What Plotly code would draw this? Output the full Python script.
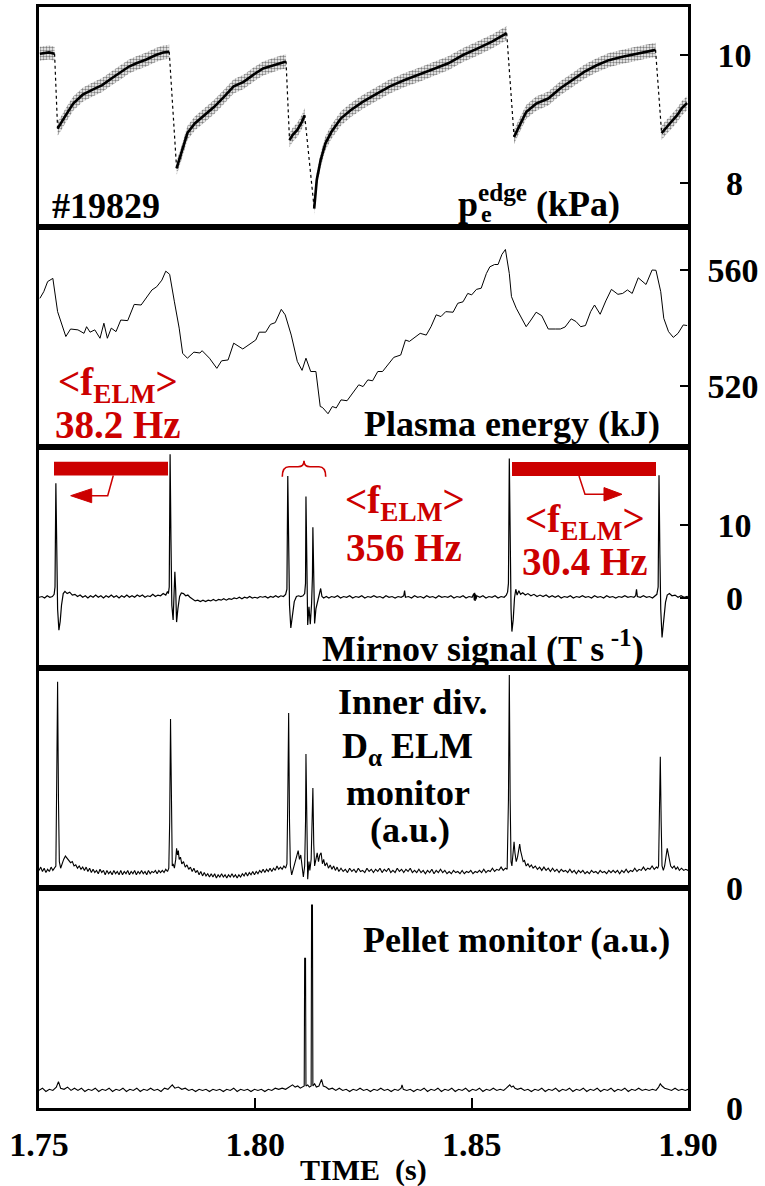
import plotly.graph_objects as go

# ---------------- data ----------------
x_ticks = [1.75, 1.80, 1.85, 1.90]
x_ticktext = ["1.75", "1.80", "1.85", "1.90"]

# edge electron pressure (kPa): segments between ELM crashes separated by None
pe_t = [1.7502, 1.7523, 1.7536, None,
        1.7543, 1.7551, 1.7562, 1.7579, 1.7601, 1.7624, 1.7646, 1.7669, 1.7691, 1.7708, 1.7725, 1.7748, 1.7770, 1.7787, 1.7801, None,
        1.7818, 1.7829, 1.7843, 1.7860, 1.7883, 1.7905, 1.7928, 1.7950, 1.7973, 1.7995, 1.8018, 1.8040, 1.8057, 1.8071, None,
        1.8079, 1.8086, 1.8097, 1.8108, 1.8114, None,
        1.8136, 1.8142, 1.8151, 1.8162, 1.8176, 1.8198, 1.8221, 1.8249, 1.8277, 1.8311, 1.8345, 1.8378, 1.8412, 1.8446, 1.8480, 1.8513, 1.8547, 1.8570, 1.8581, None,
        1.8598, 1.8609, 1.8626, 1.8649, 1.8677, 1.8705, 1.8733, 1.8761, 1.8789, 1.8817, 1.8846, 1.8874, 1.8902, 1.8925, None,
        1.8939, 1.8947, 1.8958, 1.8975, 1.8986, 1.8998]
pe_v = [10.02, 10.04, 10.02, None,
        8.85, 8.93, 9.06, 9.24, 9.38, 9.46, 9.53, 9.64, 9.74, 9.82, 9.87, 9.93, 10.00, 10.04, 10.05, None,
        8.23, 8.46, 8.78, 8.93, 9.06, 9.19, 9.35, 9.51, 9.58, 9.69, 9.79, 9.84, 9.88, 9.90, None,
        8.67, 8.75, 8.83, 8.96, 9.06, None,
        7.60, 8.05, 8.36, 8.62, 8.80, 9.01, 9.14, 9.27, 9.38, 9.51, 9.61, 9.69, 9.78, 9.87, 10.00, 10.10, 10.21, 10.30, 10.34, None,
        8.72, 8.88, 9.11, 9.24, 9.32, 9.48, 9.61, 9.74, 9.84, 9.92, 9.97, 10.01, 10.05, 10.08, None,
        8.78, 8.85, 8.93, 9.06, 9.17, 9.25]
pe_spread = 0.11          # half width of the scatter band (kPa)
pe_ticks = [8, 10]

# plasma energy (kJ)
w_t = [1.7502, 1.7511, 1.7520, 1.7532, 1.7543, 1.7554, 1.7562, 1.7573, 1.7590, 1.7604, 1.7610, 1.7618, 1.7629, 1.7641,
       1.7650, 1.7658, 1.7667, 1.7678, 1.7689, 1.7705, 1.7720, 1.7736, 1.7748, 1.7761, 1.7772, 1.7784, 1.7793, 1.7802,
       1.7813, 1.7824, 1.7832, 1.7843, 1.7858, 1.7872, 1.7877, 1.7894, 1.7911, 1.7922, 1.7937, 1.7950, 1.7971, 1.7984,
       1.8001, 1.8009, 1.8024, 1.8035, 1.8046, 1.8060, 1.8069, 1.8083, 1.8097, 1.8108, 1.8117, 1.8128, 1.8140, 1.8150,
       1.8155, 1.8168, 1.8178, 1.8187, 1.8198, 1.8212, 1.8223, 1.8239, 1.8249, 1.8260, 1.8271, 1.8283, 1.8294, 1.8306,
       1.8320, 1.8336, 1.8347, 1.8356, 1.8369, 1.8381, 1.8395, 1.8406, 1.8418, 1.8429, 1.8440, 1.8457, 1.8468, 1.8480,
       1.8491, 1.8500, 1.8511, 1.8522, 1.8534, 1.8542, 1.8553, 1.8561, 1.8570, 1.8578, 1.8587, 1.8592, 1.8603, 1.8615,
       1.8626, 1.8637, 1.8649, 1.8662, 1.8677, 1.8694, 1.8705, 1.8716, 1.8730, 1.8741, 1.8752, 1.8763, 1.8775, 1.8784,
       1.8797, 1.8810, 1.8823, 1.8838, 1.8849, 1.8860, 1.8871, 1.8885, 1.8894, 1.8903, 1.8917, 1.8926, 1.8937, 1.8944,
       1.8955, 1.8966, 1.8977, 1.8989, 1.8998]
w_v = [550.2, 552.5, 556.0, 557.1, 545.6, 541.0, 537.0, 539.6, 539.3, 538.1, 540.4, 538.5, 539.3, 536.4,
       541.6, 536.4, 539.9, 538.7, 542.7, 542.5, 548.1, 547.9, 550.2, 553.1, 554.2, 556.5, 559.6, 558.5,
       549.0, 539.9, 531.2, 529.5, 531.6, 531.3, 532.1, 529.5, 526.0, 528.6, 528.9, 534.7, 532.7, 534.1,
       535.8, 538.5, 538.5, 541.2, 541.8, 546.4, 544.5, 537.5, 528.4, 525.3, 529.5, 524.9, 524.9, 512.8,
       512.5, 510.3, 512.8, 512.3, 515.1, 514.8, 516.9, 520.3, 519.7, 522.0, 521.7, 524.9, 524.9, 527.0,
       529.8, 530.6, 535.8, 535.3, 536.6, 538.1, 537.5, 540.4, 544.5, 543.9, 545.6, 545.4, 548.5, 549.0,
       551.9, 551.4, 553.3, 553.7, 558.8, 561.1, 561.9, 561.9, 565.4, 567.1, 558.8, 550.8, 546.8, 543.3,
       540.4, 542.7, 545.4, 544.2, 539.6, 539.6, 539.6, 540.3, 543.1, 542.2, 540.4, 540.8, 545.6, 547.9,
       544.7, 549.3, 553.3, 551.6, 551.9, 553.1, 551.9, 557.3, 556.2, 555.0, 560.0, 559.9, 552.5, 543.3,
       538.7, 536.7, 538.1, 541.0, 540.8]
w_ticks = [520, 560]

# Mirnov signal (T/s)
mir_t = [1.7500, 1.7507, 1.7513, 1.7519, 1.7525, 1.7531, 1.7535, 1.7537, 1.7539, 1.7541, 1.7543, 1.7546, 1.7549, 1.7552,
         1.7556, 1.7560, 1.7565, 1.7571, 1.7577, 1.7583, 1.7589, 1.7595, 1.7601, 1.7607, 1.7613, 1.7619, 1.7625, 1.7631,
         1.7637, 1.7643, 1.7649, 1.7655, 1.7661, 1.7667, 1.7673, 1.7679, 1.7685, 1.7691, 1.7697, 1.7703, 1.7709, 1.7715,
         1.7721, 1.7727, 1.7733, 1.7739, 1.7745, 1.7751, 1.7757, 1.7763, 1.7769, 1.7775, 1.7781, 1.7787, 1.7793, 1.7797,
         1.7799, 1.7801, 1.7803, 1.7805, 1.7807, 1.7810, 1.7812, 1.7814, 1.7816, 1.7818, 1.7821, 1.7825, 1.7829, 1.7834,
         1.7839, 1.7844, 1.7849, 1.7855, 1.7861, 1.7867, 1.7873, 1.7879, 1.7885, 1.7891, 1.7897, 1.7903, 1.7909, 1.7915,
         1.7921, 1.7927, 1.7933, 1.7939, 1.7945, 1.7951, 1.7957, 1.7963, 1.7969, 1.7975, 1.7981, 1.7987, 1.7993, 1.7999,
         1.8005, 1.8011, 1.8017, 1.8023, 1.8029, 1.8035, 1.8041, 1.8047, 1.8053, 1.8059, 1.8065, 1.8070, 1.8073, 1.8075,
         1.8077, 1.8079, 1.8082, 1.8086, 1.8090, 1.8095, 1.8100, 1.8105, 1.8110, 1.8114, 1.8116, 1.8117, 1.8119, 1.8121,
         1.8124, 1.8127, 1.8130, 1.8132, 1.8133, 1.8135, 1.8137, 1.8140, 1.8144, 1.8148, 1.8151, 1.8154, 1.8158, 1.8164,
         1.8170, 1.8176, 1.8183, 1.8190, 1.8197, 1.8204, 1.8211, 1.8218, 1.8225, 1.8232, 1.8239, 1.8246, 1.8253, 1.8260,
         1.8267, 1.8274, 1.8281, 1.8288, 1.8295, 1.8302, 1.8309, 1.8316, 1.8323, 1.8330, 1.8337, 1.8343, 1.8345, 1.8347,
         1.8354, 1.8361, 1.8368, 1.8375, 1.8382, 1.8389, 1.8396, 1.8403, 1.8410, 1.8417, 1.8424, 1.8431, 1.8438, 1.8445,
         1.8452, 1.8459, 1.8466, 1.8473, 1.8480, 1.8487, 1.8494, 1.8501, 1.8505, 1.8506, 1.8507, 1.8508, 1.8509, 1.8510,
         1.8512, 1.8519, 1.8526, 1.8533, 1.8540, 1.8547, 1.8554, 1.8561, 1.8568, 1.8575, 1.8580, 1.8583, 1.8585, 1.8587,
         1.8589, 1.8591, 1.8593, 1.8596, 1.8599, 1.8602, 1.8605, 1.8609, 1.8613, 1.8618, 1.8624, 1.8630, 1.8637, 1.8644,
         1.8651, 1.8658, 1.8665, 1.8672, 1.8679, 1.8686, 1.8693, 1.8700, 1.8707, 1.8714, 1.8721, 1.8728, 1.8735, 1.8742,
         1.8749, 1.8756, 1.8763, 1.8770, 1.8777, 1.8784, 1.8791, 1.8798, 1.8805, 1.8812, 1.8819, 1.8826, 1.8833, 1.8840,
         1.8847, 1.8854, 1.8861, 1.8868, 1.8875, 1.8879, 1.8881, 1.8883, 1.8890, 1.8897, 1.8904, 1.8911, 1.8918, 1.8924,
         1.8928, 1.8931, 1.8933, 1.8935, 1.8937, 1.8940, 1.8944, 1.8948, 1.8952, 1.8957, 1.8963, 1.8970, 1.8977, 1.8984,
         1.8991, 1.8998, 1.9000]
mir_v = [0.1, 0.2, 0.0, 0.3, 0.1, 0.2, 0.5, 1.5, 15.7, 6.0, -1.5, -4.4, -3.2, -1.0,
         0.6, 0.9, 0.6, 0.8, 0.4, 0.5, 0.2, 0.4, 0.1, 0.3, 0.0, 0.3, 0.1, 0.4,
         0.1, 0.3, 0.0, 0.3, 0.1, 0.4, 0.1, 0.3, 0.0, 0.3, 0.1, 0.4, 0.1, 0.3,
         0.1, 0.4, 0.2, 0.4, 0.1, 0.3, 0.2, 0.5, 0.2, 0.4, 0.3, 0.6, 0.4, 0.9,
         0.6, 1.5, 19.7, 8.0, -1.0, -3.0, 0.0, 3.6, 1.0, -3.3, -1.5, 0.2, 0.7, 0.6,
         0.3, 0.4, 0.1, -0.2, -0.4, -0.3, -0.5, -0.3, -0.5, -0.3, -0.4, -0.2, -0.4, -0.2,
         -0.3, -0.1, -0.3, -0.1, -0.2, 0.0, -0.1, 0.1, -0.1, 0.1, 0.0, 0.2, 0.0, 0.1,
         0.0, 0.2, 0.1, 0.2, 0.0, 0.2, 0.1, 0.3, 0.1, 0.3, 0.2, 0.5, 1.2, 16.7,
         6.0, -1.0, -4.1, -2.5, -0.5, 0.2, 0.3, 0.2, 0.3, 0.6, 2.0, 13.9, 3.0, -3.7,
         -1.2, -3.6, -0.8, 3.0, 9.7, 2.0, -3.5, -1.5, -0.3, 0.6, 1.3, 0.2, 0.0, 0.2,
         0.0, 0.2, 0.1, 0.3, 0.0, 0.2, 0.1, 0.3, 0.0, 0.2, 0.1, 0.3, 0.0, 0.2,
         0.1, 0.3, 0.1, 0.2, 0.0, 0.3, 0.1, 0.2, 0.0, 0.2, 0.1, 0.3, 1.0, 0.1,
         0.2, 0.0, 0.3, 0.1, 0.2, 0.0, 0.3, 0.1, 0.2, 0.0, 0.3, 0.1, 0.2, 0.1,
         0.3, 0.0, 0.2, 0.1, 0.3, 0.0, 0.2, 0.1, 0.6, -0.3, 0.7, -0.4, 0.5, -0.2,
         0.3, 0.1, 0.3, 0.0, 0.2, 0.1, 0.3, 0.0, 0.2, 0.1, 0.4, 0.8, 2.0, 19.1,
         6.0, -1.5, -4.6, -3.0, 0.0, 1.2, 0.4, 1.0, 0.5, 0.7, 0.4, 0.6, 0.3, 0.5,
         0.2, 0.4, 0.2, 0.4, 0.1, 0.3, 0.1, 0.3, 0.0, 0.2, 0.1, 0.3, 0.0, 0.2,
         0.1, 0.3, 0.1, 0.2, 0.0, 0.3, 0.1, 0.2, 0.0, 0.3, 0.1, 0.2, 0.0, 0.2,
         0.1, 0.3, 0.1, 0.2, 0.1, 0.3, 1.2, 0.2, 0.1, 0.3, 0.1, 0.2, 0.0, 0.3,
         0.5, 1.5, 16.8, 6.0, -1.5, -5.4, -3.0, -0.6, 0.4, 0.6, 0.3, 0.4, 0.1, 0.3,
         0.1, 0.2, 0.1]
mir_ticks = [0, 10]

# inner divertor D-alpha (a.u.)
da_t = [1.7500, 1.7504, 1.7508, 1.7512, 1.7516, 1.7520, 1.7524, 1.7528, 1.7532, 1.7536, 1.7539, 1.7541, 1.7543, 1.7545,
        1.7547, 1.7550, 1.7553, 1.7557, 1.7561, 1.7565, 1.7569, 1.7573, 1.7577, 1.7581, 1.7585, 1.7589, 1.7593, 1.7597,
        1.7601, 1.7605, 1.7609, 1.7613, 1.7617, 1.7621, 1.7625, 1.7629, 1.7633, 1.7637, 1.7641, 1.7645, 1.7649, 1.7653,
        1.7657, 1.7661, 1.7665, 1.7669, 1.7673, 1.7677, 1.7681, 1.7685, 1.7689, 1.7693, 1.7697, 1.7701, 1.7705, 1.7709,
        1.7713, 1.7717, 1.7721, 1.7725, 1.7729, 1.7733, 1.7737, 1.7741, 1.7745, 1.7749, 1.7753, 1.7757, 1.7761, 1.7765,
        1.7769, 1.7773, 1.7777, 1.7781, 1.7785, 1.7789, 1.7793, 1.7797, 1.7800, 1.7802, 1.7804, 1.7806, 1.7808, 1.7810,
        1.7813, 1.7816, 1.7818, 1.7820, 1.7822, 1.7824, 1.7827, 1.7830, 1.7834, 1.7838, 1.7842, 1.7846, 1.7850, 1.7854,
        1.7858, 1.7862, 1.7866, 1.7870, 1.7874, 1.7878, 1.7882, 1.7886, 1.7890, 1.7894, 1.7898, 1.7902, 1.7906, 1.7910,
        1.7914, 1.7918, 1.7922, 1.7926, 1.7930, 1.7934, 1.7938, 1.7942, 1.7946, 1.7950, 1.7954, 1.7958, 1.7962, 1.7966,
        1.7970, 1.7974, 1.7978, 1.7982, 1.7986, 1.7990, 1.7994, 1.7998, 1.8002, 1.8006, 1.8010, 1.8014, 1.8018, 1.8022,
        1.8026, 1.8030, 1.8034, 1.8038, 1.8042, 1.8046, 1.8050, 1.8054, 1.8058, 1.8062, 1.8066, 1.8070, 1.8073, 1.8075,
        1.8077, 1.8079, 1.8081, 1.8084, 1.8088, 1.8092, 1.8096, 1.8099, 1.8102, 1.8105, 1.8108, 1.8111, 1.8114, 1.8116,
        1.8117, 1.8119, 1.8121, 1.8124, 1.8126, 1.8129, 1.8131, 1.8133, 1.8135, 1.8137, 1.8140, 1.8143, 1.8146, 1.8149,
        1.8152, 1.8155, 1.8158, 1.8161, 1.8165, 1.8169, 1.8173, 1.8177, 1.8181, 1.8185, 1.8189, 1.8193, 1.8198, 1.8203,
        1.8208, 1.8213, 1.8218, 1.8223, 1.8228, 1.8233, 1.8238, 1.8243, 1.8248, 1.8253, 1.8258, 1.8263, 1.8268, 1.8273,
        1.8278, 1.8283, 1.8288, 1.8293, 1.8298, 1.8303, 1.8308, 1.8313, 1.8318, 1.8323, 1.8328, 1.8333, 1.8338, 1.8343,
        1.8348, 1.8353, 1.8358, 1.8363, 1.8368, 1.8373, 1.8378, 1.8383, 1.8388, 1.8393, 1.8398, 1.8403, 1.8408, 1.8413,
        1.8418, 1.8423, 1.8428, 1.8433, 1.8438, 1.8443, 1.8448, 1.8453, 1.8458, 1.8463, 1.8468, 1.8473, 1.8478, 1.8483,
        1.8488, 1.8493, 1.8498, 1.8503, 1.8508, 1.8513, 1.8518, 1.8523, 1.8528, 1.8533, 1.8538, 1.8543, 1.8548, 1.8553,
        1.8558, 1.8563, 1.8568, 1.8573, 1.8578, 1.8582, 1.8585, 1.8587, 1.8589, 1.8591, 1.8593, 1.8596, 1.8598, 1.8600,
        1.8603, 1.8606, 1.8609, 1.8611, 1.8613, 1.8616, 1.8619, 1.8622, 1.8626, 1.8630, 1.8634, 1.8638, 1.8642, 1.8647,
        1.8652, 1.8657, 1.8662, 1.8667, 1.8672, 1.8677, 1.8682, 1.8687, 1.8692, 1.8697, 1.8702, 1.8707, 1.8712, 1.8717,
        1.8722, 1.8727, 1.8732, 1.8737, 1.8742, 1.8747, 1.8752, 1.8757, 1.8762, 1.8767, 1.8772, 1.8777, 1.8782, 1.8787,
        1.8792, 1.8797, 1.8802, 1.8807, 1.8812, 1.8817, 1.8822, 1.8827, 1.8832, 1.8837, 1.8842, 1.8847, 1.8852, 1.8857,
        1.8862, 1.8867, 1.8872, 1.8877, 1.8882, 1.8887, 1.8892, 1.8897, 1.8902, 1.8907, 1.8912, 1.8917, 1.8922, 1.8927,
        1.8930, 1.8932, 1.8934, 1.8936, 1.8938, 1.8940, 1.8943, 1.8946, 1.8949, 1.8952, 1.8954, 1.8957, 1.8960, 1.8964,
        1.8968, 1.8972, 1.8976, 1.8980, 1.8985, 1.8990, 1.8995, 1.9000]
da_v = [0.8, 0.95, 0.75, 0.9, 0.7, 0.85, 0.75, 0.95, 0.8, 0.9, 1.0, 5.0, 9.38, 4.0,
        1.2, 0.9, 1.1, 1.3, 1.45, 1.35, 1.3, 1.15, 1.2, 1.0, 1.05, 0.9, 1.0, 0.85,
        0.95, 0.8, 0.95, 0.75, 0.9, 0.7, 0.85, 0.7, 0.8, 0.65, 0.85, 0.7, 0.8, 0.6,
        0.8, 0.65, 0.75, 0.6, 0.8, 0.65, 0.75, 0.6, 0.8, 0.6, 0.75, 0.65, 0.8, 0.6,
        0.75, 0.65, 0.8, 0.6, 0.75, 0.65, 0.8, 0.65, 0.75, 0.6, 0.8, 0.65, 0.75, 0.7,
        0.8, 0.65, 0.8, 0.7, 0.8, 0.7, 0.85, 0.75, 0.9, 3.0, 7.68, 3.0, 1.0, 1.1,
        0.9, 1.3, 1.8, 1.5, 1.7, 1.3, 1.4, 1.1, 1.2, 0.95, 1.05, 0.85, 0.95, 0.75,
        0.9, 0.7, 0.8, 0.6, 0.75, 0.55, 0.7, 0.55, 0.65, 0.5, 0.65, 0.5, 0.65, 0.45,
        0.6, 0.5, 0.65, 0.5, 0.6, 0.45, 0.6, 0.5, 0.65, 0.5, 0.6, 0.45, 0.6, 0.5,
        0.65, 0.55, 0.7, 0.55, 0.7, 0.6, 0.75, 0.6, 0.75, 0.65, 0.8, 0.7, 0.85, 0.7,
        0.85, 0.75, 0.9, 0.75, 0.9, 0.8, 1.0, 0.85, 0.95, 0.85, 1.0, 0.9, 1.1, 4.0,
        7.95, 3.0, 1.0, 0.6, 0.9, 1.2, 1.5, 1.7, 1.3, 1.5, 1.0, 0.5, 1.0, 3.0,
        6.09, 2.0, 0.4, 1.2, 0.8, 1.3, 2.5, 4.55, 2.0, 1.0, 1.3, 1.6, 1.2, 1.5,
        1.6, 1.1, 1.3, 1.0, 1.15, 0.9, 1.05, 0.85, 1.0, 0.8, 0.95, 0.75, 0.9, 0.75,
        0.85, 0.7, 0.9, 0.75, 0.85, 0.7, 0.9, 0.75, 0.8, 0.7, 0.9, 0.75, 0.85, 0.7,
        0.85, 0.75, 0.9, 0.7, 0.85, 0.75, 0.9, 0.7, 0.8, 0.7, 0.9, 0.75, 0.85, 0.7,
        0.85, 0.75, 0.9, 0.7, 0.8, 0.7, 0.85, 0.7, 0.8, 0.65, 0.8, 0.7, 0.85, 0.65,
        0.8, 0.7, 0.85, 0.7, 0.8, 0.65, 0.75, 0.65, 0.8, 0.7, 0.75, 0.65, 0.8, 0.65,
        0.75, 0.7, 0.8, 0.65, 0.75, 0.7, 0.8, 0.7, 0.85, 0.7, 0.8, 0.75, 0.9, 0.75,
        0.85, 0.8, 0.95, 0.8, 0.9, 0.85, 4.0, 9.68, 4.0, 1.2, 1.0, 1.6, 2.1, 1.6,
        1.2, 1.4, 1.8, 2.0, 1.7, 1.4, 1.2, 1.25, 1.0, 1.1, 0.95, 1.05, 0.9, 1.0,
        0.85, 0.95, 0.8, 0.95, 0.8, 0.9, 0.75, 0.9, 0.75, 0.85, 0.7, 0.85, 0.75, 0.8,
        0.7, 0.85, 0.7, 0.8, 0.65, 0.8, 0.7, 0.8, 0.65, 0.75, 0.65, 0.8, 0.7, 0.75,
        0.65, 0.8, 0.7, 0.75, 0.65, 0.8, 0.7, 0.8, 0.7, 0.8, 0.65, 0.8, 0.7, 0.85,
        0.7, 0.8, 0.75, 0.9, 0.75, 0.85, 0.8, 0.95, 0.8, 0.9, 0.85, 1.0, 0.85, 0.95,
        0.9, 1.0, 3.0, 5.97, 3.0, 1.0, 0.8, 1.0, 1.4, 1.8, 1.6, 1.3, 1.0, 0.9,
        1.0, 0.85, 0.95, 0.8, 0.9, 0.8, 0.85, 0.8]

# pellet monitor (a.u.)
pel_t = [1.7500, 1.7508, 1.7516, 1.7524, 1.7532, 1.7540, 1.7545, 1.7550, 1.7558, 1.7566, 1.7574, 1.7582, 1.7590, 1.7598,
         1.7606, 1.7614, 1.7622, 1.7630, 1.7638, 1.7646, 1.7654, 1.7662, 1.7670, 1.7678, 1.7686, 1.7694, 1.7702, 1.7710,
         1.7718, 1.7726, 1.7734, 1.7742, 1.7750, 1.7758, 1.7766, 1.7774, 1.7782, 1.7790, 1.7798, 1.7804, 1.7808, 1.7814,
         1.7822, 1.7830, 1.7838, 1.7846, 1.7854, 1.7862, 1.7870, 1.7878, 1.7886, 1.7894, 1.7902, 1.7910, 1.7918, 1.7926,
         1.7934, 1.7942, 1.7950, 1.7958, 1.7966, 1.7974, 1.7982, 1.7990, 1.7998, 1.8006, 1.8014, 1.8022, 1.8030, 1.8038,
         1.8046, 1.8054, 1.8062, 1.8070, 1.8078, 1.8086, 1.8092, 1.8098, 1.8104, 1.8110, 1.8113, 1.8114, 1.8116, 1.8117,
         1.8121, 1.8125, 1.8129, 1.8130, 1.8132, 1.8133, 1.8137, 1.8141, 1.8147, 1.8153, 1.8157, 1.8163, 1.8170, 1.8178,
         1.8186, 1.8194, 1.8202, 1.8210, 1.8218, 1.8226, 1.8234, 1.8242, 1.8250, 1.8258, 1.8266, 1.8274, 1.8282, 1.8290,
         1.8298, 1.8306, 1.8314, 1.8322, 1.8330, 1.8337, 1.8339, 1.8342, 1.8350, 1.8358, 1.8366, 1.8374, 1.8382, 1.8390,
         1.8398, 1.8406, 1.8414, 1.8422, 1.8430, 1.8438, 1.8446, 1.8454, 1.8462, 1.8470, 1.8478, 1.8486, 1.8494, 1.8502,
         1.8510, 1.8518, 1.8526, 1.8534, 1.8542, 1.8550, 1.8558, 1.8566, 1.8574, 1.8580, 1.8584, 1.8588, 1.8592, 1.8596,
         1.8600, 1.8606, 1.8614, 1.8622, 1.8630, 1.8638, 1.8646, 1.8654, 1.8662, 1.8670, 1.8678, 1.8686, 1.8694, 1.8702,
         1.8710, 1.8718, 1.8726, 1.8734, 1.8742, 1.8750, 1.8758, 1.8766, 1.8774, 1.8782, 1.8790, 1.8798, 1.8806, 1.8814,
         1.8822, 1.8830, 1.8838, 1.8846, 1.8854, 1.8862, 1.8870, 1.8878, 1.8886, 1.8894, 1.8902, 1.8910, 1.8918, 1.8926,
         1.8932, 1.8936, 1.8940, 1.8946, 1.8954, 1.8962, 1.8970, 1.8978, 1.8986, 1.8994, 1.9000]
pel_v = [0.8, 0.9, 0.75, 0.85, 0.8, 0.95, 1.2, 0.9, 0.85, 0.95, 0.8, 0.9, 0.8, 0.9,
         0.75, 0.85, 0.8, 0.9, 0.75, 0.85, 0.8, 0.9, 0.75, 0.85, 0.8, 0.9, 0.75, 0.85,
         0.8, 0.9, 0.75, 0.85, 0.8, 0.9, 0.8, 0.85, 0.75, 0.9, 0.85, 1.0, 1.05, 0.9,
         0.95, 0.85, 0.9, 0.8, 0.85, 0.75, 0.85, 0.8, 0.85, 0.75, 0.85, 0.8, 0.85, 0.75,
         0.85, 0.8, 0.9, 0.75, 0.85, 0.8, 0.85, 0.75, 0.85, 0.8, 0.85, 0.75, 0.85, 0.8,
         0.9, 0.85, 0.9, 0.85, 0.95, 1.05, 0.95, 1.0, 0.9, 0.95, 1.0, 6.8, 6.8, 1.0,
         1.05, 0.95, 1.0, 9.22, 9.22, 1.0, 1.1, 0.95, 1.0, 1.3, 1.0, 0.95, 0.85, 0.9,
         0.8, 0.9, 0.8, 0.85, 0.75, 0.85, 0.8, 0.9, 0.8, 0.85, 0.75, 0.85, 0.8, 0.9,
         0.8, 0.85, 0.75, 0.85, 0.8, 0.9, 1.05, 0.85, 0.8, 0.85, 0.75, 0.85, 0.8, 0.9,
         0.75, 0.85, 0.8, 0.9, 0.75, 0.85, 0.8, 0.9, 0.75, 0.85, 0.8, 0.9, 0.75, 0.85,
         0.8, 0.9, 0.75, 0.85, 0.8, 0.9, 0.8, 0.85, 0.8, 0.9, 1.0, 1.05, 0.95, 1.0,
         0.9, 0.85, 0.9, 0.8, 0.85, 0.75, 0.85, 0.8, 0.9, 0.75, 0.85, 0.8, 0.9, 0.75,
         0.85, 0.8, 0.9, 0.75, 0.85, 0.8, 0.9, 0.75, 0.85, 0.8, 0.9, 0.75, 0.85, 0.8,
         0.9, 0.75, 0.85, 0.8, 0.9, 0.75, 0.85, 0.8, 0.9, 0.8, 0.85, 0.8, 0.85, 0.8,
         0.95, 1.1, 1.0, 0.9, 0.85, 0.8, 0.9, 0.8, 0.85, 0.8, 0.85]

# ---------------- layout helpers ----------------
W, H = 765, 1186
L, R, T, B = 39, 688, 7, 1108
PW, PH = R - L, B - T
edges = [7, 227, 447, 668, 888, 1108]


def px(x):
    return (x - L) / PW


def py(y):
    return (B - y) / PH


FONT = "Liberation Serif"
RED = "#CC0000"
TICK = dict(family=FONT, size=34, color="black", weight="bold")
NB = "\u00a0"

fig = go.Figure()

# ---- panel 1: p_e edge band ----
segs = []
cur = []
for t, v in zip(pe_t, pe_v):
    if t is None:
        segs.append(cur)
        cur = []
    else:
        cur.append((t, v))
segs.append(cur)
for s in segs:
    ts = [p[0] for p in s]
    vs = [p[1] for p in s]
    fig.add_trace(go.Scatter(
        x=ts + ts[::-1], y=[v + pe_spread for v in vs] + [v - pe_spread for v in vs[::-1]],
        fill="toself", mode="none", fillcolor="rgba(0,0,0,0)",
        fillpattern=dict(shape=".", fgcolor="black", bgcolor="rgba(0,0,0,0)", size=3, solidity=0.5),
        xaxis="x", yaxis="y", hoverinfo="skip"))
fig.add_trace(go.Scatter(x=pe_t, y=pe_v, mode="lines", line=dict(color="black", width=2.6),
                         connectgaps=False, xaxis="x", yaxis="y"))
# crash drops (sparse points -> dotted)
for a, b in zip(segs[:-1], segs[1:]):
    fig.add_trace(go.Scatter(x=[a[-1][0], b[0][0]], y=[a[-1][1], b[0][1]], mode="lines",
                             line=dict(color="black", width=1.2, dash="dot"), xaxis="x", yaxis="y"))

# ---- panel 2: plasma energy ----
fig.add_trace(go.Scatter(x=w_t, y=w_v, mode="lines", line=dict(color="black", width=1),
                         xaxis="x2", yaxis="y2"))
# ---- panel 3: Mirnov ----
fig.add_trace(go.Scatter(x=mir_t, y=mir_v, mode="lines", line=dict(color="black", width=1.2),
                         xaxis="x3", yaxis="y3"))
# ---- panel 4: D alpha ----
fig.add_trace(go.Scatter(x=da_t, y=da_v, mode="lines", line=dict(color="black", width=1.1),
                         xaxis="x4", yaxis="y4"))
# ---- panel 5: pellet ----
fig.add_trace(go.Scatter(x=pel_t, y=pel_v, mode="lines", line=dict(color="black", width=1.1),
                         xaxis="x5", yaxis="y5"))

ranges = [[7.3125, 10.75], [498.8, 574.87], [-9.59, 20.68], [0, 10], [0, 10]]
ytv = [pe_ticks, w_ticks, mir_ticks, [0], [0]]
ytt = [[NB + "8", "10"], ["520", "560"], [NB + "0", "10"], [NB + "0"], [NB + "0"]]
ystand = [20, 10, 20, 20, 20]

lay = {}
for i in range(5):
    k = "" if i == 0 else str(i + 1)
    dom = [py(edges[i + 1]), py(edges[i])]
    xa = dict(domain=[0, 1], anchor="y" + k, range=[1.75, 1.90], showline=True, mirror=True,
              linecolor="black", linewidth=2.5, showgrid=False, zeroline=False,
              ticks="", showticklabels=False, fixedrange=True)
    if i > 0:
        xa["matches"] = "x"
    if i == 4:
        xa.update(ticks="inside", ticklen=10, tickwidth=1.5, tickcolor="black",
                  tickvals=x_ticks, ticktext=x_ticktext, showticklabels=True,
                  tickfont=TICK, ticklabelstandoff=4)
    ya = dict(domain=dom, anchor="x" + k, side="right", range=ranges[i], showline=True, mirror=True,
              linecolor="black", linewidth=2.5, showgrid=False, zeroline=False,
              ticks="inside", ticklen=8, tickwidth=1.5, tickcolor="black",
              tickvals=ytv[i], ticktext=ytt[i], tickfont=TICK, ticklabelstandoff=ystand[i])
    lay["xaxis" + k] = xa
    lay["yaxis" + k] = ya

LAB = 36
RFS = 39


def ann(text, x, y, size=LAB, color="black", xanchor="center"):
    return dict(text="<b>" + text + "</b>", x=px(x), y=py(y), xref="paper", yref="paper",
                xanchor=xanchor, yanchor="middle", showarrow=False,
                font=dict(family=FONT, size=size, color=color))


annotations = [
    ann("#19829", 106, 206),
    ann("p<sup>edge</sup> (kPa)", 622, 202, xanchor="right"),
    ann("e", 486, 214, size=24),
    ann("Plasma energy (kJ)", 662, 424, xanchor="right"),
    ann("Mirnov signal (T s<sup> -1</sup>)", 646, 646, xanchor="right"),
    ann("Inner div.", 412, 702),
    ann("D<sub>α</sub> ELM", 408, 748),
    ann("monitor", 408, 793),
    ann("(a.u.)", 410, 830),
    ann("Pellet monitor (a.u.)", 672, 940, xanchor="right"),
    ann("TIME  (s)", 363, 1170, size=30),
    ann("&lt;f<sub>ELM</sub>&gt;", 118, 385, size=RFS, color=RED),
    ann("38.2 Hz", 118, 424, size=RFS, color=RED),
    ann("&lt;f<sub>ELM</sub>&gt;", 405, 502, size=RFS, color=RED),
    ann("356 Hz", 404, 547, size=RFS, color=RED),
    ann("&lt;f<sub>ELM</sub>&gt;", 585, 521, size=RFS, color=RED),
    ann("30.4 Hz", 585, 561, size=RFS, color=RED),
]


def path(points, close=False):
    s = "M " + " L ".join(f"{px(x):.5f},{py(y):.5f}" for x, y in points)
    return s + (" Z" if close else "")


def rect(x0, y0, x1, y1):
    return dict(type="rect", xref="paper", yref="paper", x0=px(x0), x1=px(x1), y0=py(y1), y1=py(y0),
                fillcolor=RED, line=dict(width=0))


def q(x, y):
    return f"{px(x):.5f},{py(y):.5f}"


brace = ("M " + q(282.3, 476.7) + " Q " + q(282.3, 466.7) + " " + q(289, 466.7) +
         " L " + q(298, 466.7) + " Q " + q(304, 466.7) + " " + q(304, 460.7) +
         " Q " + q(304, 466.7) + " " + q(310, 466.7) + " L " + q(319, 466.7) +
         " Q " + q(325.7, 466.7) + " " + q(325.7, 476.7))

shapes = [
    rect(54, 461.7, 168, 475.5),
    rect(512, 462, 656, 476),
    dict(type="path", xref="paper", yref="paper", path=path([(113.3, 475.5), (107.7, 495.7), (90, 495.7)]),
         line=dict(color=RED, width=1.5)),
    dict(type="path", xref="paper", yref="paper", path=path([(70.7, 495.7), (91.7, 488.7), (91.7, 502.7)], True),
         fillcolor=RED, line=dict(color=RED, width=1)),
    dict(type="path", xref="paper", yref="paper", path=path([(579, 476), (585, 494.3), (605, 494.3)]),
         line=dict(color=RED, width=1.5)),
    dict(type="path", xref="paper", yref="paper", path=path([(622, 494.3), (604, 487.6), (604, 501)], True),
         fillcolor=RED, line=dict(color=RED, width=1)),
    dict(type="path", xref="paper", yref="paper", path=brace, line=dict(color=RED, width=1.6)),
]

fig.update_layout(
    width=W, height=H, margin=dict(l=L, r=W - R, t=T, b=H - B, autoexpand=False),
    paper_bgcolor="white", plot_bgcolor="white", showlegend=False,
    annotations=annotations, shapes=shapes, **lay)

fig.write_html("out.html", config={"displayModeBar": False},
               post_script="document.body.style.margin='0px';document.body.style.padding='0px';")
